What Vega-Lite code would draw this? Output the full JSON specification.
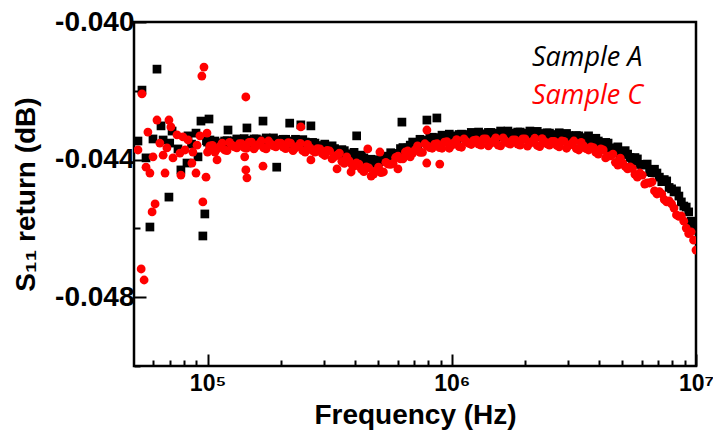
{
  "$schema": "https://vega.github.io/schema/vega-lite/v6.json",
  "width": 562,
  "height": 344,
  "autosize": {"type": "none"},
  "padding": {"left": 134, "top": 22, "right": 17, "bottom": 68},
  "background": "white",
  "config": {
    "view": {"stroke": "black", "strokeWidth": 2.5},
    "axis": {"grid": false, "domain": false}
  },
  "datasets": {
    "a": [
      {"freq": 6.21e4, "s11": -0.04137}, {"freq": 5.39e4, "s11": -0.04198}, {"freq": 5.19e4, "s11": -0.04346}, {"freq": 5.98e4, "s11": -0.04340},
      {"freq": 5.60e4, "s11": -0.04395}, {"freq": 6.45e4, "s11": -0.04302}, {"freq": 6.58e4, "s11": -0.04343}, {"freq": 7.16e4, "s11": -0.04317},
      {"freq": 7.57e4, "s11": -0.04369}, {"freq": 7.78e4, "s11": -0.04430}, {"freq": 8.24e4, "s11": -0.04410}, {"freq": 8.32e4, "s11": -0.04331},
      {"freq": 8.97e4, "s11": -0.04323}, {"freq": 9.14e4, "s11": -0.04392}, {"freq": 9.40e4, "s11": -0.04288}, {"freq": 1.014e5, "s11": -0.04282},
      {"freq": 1.023e5, "s11": -0.04343}, {"freq": 6.95e4, "s11": -0.04509}, {"freq": 5.81e4, "s11": -0.04596}, {"freq": 9.75e4, "s11": -0.04558},
      {"freq": 9.57e4, "s11": -0.04622}, {"freq": 1.213e5, "s11": -0.04314}, {"freq": 1.45e5, "s11": -0.04308}, {"freq": 1.687e5, "s11": -0.04288},
      {"freq": 2.17e5, "s11": -0.04294}, {"freq": 2.41e5, "s11": -0.04299}, {"freq": 2.65e5, "s11": -0.04302}, {"freq": 4.08e5, "s11": -0.04331},
      {"freq": 6.25e5, "s11": -0.04291}, {"freq": 1.92e5, "s11": -0.04422}, {"freq": 7.91e5, "s11": -0.04285}, {"freq": 8.69e5, "s11": -0.04279},
      {"freq": 8.6e4, "s11": -0.04355}, {"freq": 7.0e4, "s11": -0.04352}, {"freq": 9.9e4, "s11": -0.04345},
      {"freq": 1.000e5, "s11": -0.04349}, {"freq": 1.047e5, "s11": -0.04362}, {"freq": 1.096e5, "s11": -0.04351}, {"freq": 1.148e5, "s11": -0.04361},
      {"freq": 1.202e5, "s11": -0.04345}, {"freq": 1.259e5, "s11": -0.04352}, {"freq": 1.318e5, "s11": -0.04340}, {"freq": 1.380e5, "s11": -0.04354},
      {"freq": 1.445e5, "s11": -0.04344}, {"freq": 1.514e5, "s11": -0.04355}, {"freq": 1.585e5, "s11": -0.04340}, {"freq": 1.660e5, "s11": -0.04349},
      {"freq": 1.738e5, "s11": -0.04337}, {"freq": 1.820e5, "s11": -0.04352}, {"freq": 1.905e5, "s11": -0.04343}, {"freq": 1.995e5, "s11": -0.04355},
      {"freq": 2.089e5, "s11": -0.04341}, {"freq": 2.188e5, "s11": -0.04351}, {"freq": 2.291e5, "s11": -0.04341}, {"freq": 2.399e5, "s11": -0.04356},
      {"freq": 2.512e5, "s11": -0.04349}, {"freq": 2.630e5, "s11": -0.04363}, {"freq": 2.754e5, "s11": -0.04352}, {"freq": 2.884e5, "s11": -0.04363},
      {"freq": 3.020e5, "s11": -0.04355}, {"freq": 3.162e5, "s11": -0.04372}, {"freq": 3.311e5, "s11": -0.04368}, {"freq": 3.467e5, "s11": -0.04384},
      {"freq": 3.631e5, "s11": -0.04374}, {"freq": 3.802e5, "s11": -0.04387}, {"freq": 3.981e5, "s11": -0.04379}, {"freq": 4.169e5, "s11": -0.04398},
      {"freq": 4.365e5, "s11": -0.04395}, {"freq": 4.571e5, "s11": -0.04413}, {"freq": 4.786e5, "s11": -0.04401}, {"freq": 5.012e5, "s11": -0.04407},
      {"freq": 5.248e5, "s11": -0.04390}, {"freq": 5.495e5, "s11": -0.04398}, {"freq": 5.754e5, "s11": -0.04382}, {"freq": 6.026e5, "s11": -0.04387},
      {"freq": 6.310e5, "s11": -0.04365}, {"freq": 6.607e5, "s11": -0.04366}, {"freq": 6.918e5, "s11": -0.04349}, {"freq": 7.244e5, "s11": -0.04358},
      {"freq": 7.586e5, "s11": -0.04344}, {"freq": 7.943e5, "s11": -0.04352}, {"freq": 8.318e5, "s11": -0.04335}, {"freq": 8.710e5, "s11": -0.04342},
      {"freq": 9.120e5, "s11": -0.04329}, {"freq": 9.550e5, "s11": -0.04342}, {"freq": 1.000e6, "s11": -0.04331}, {"freq": 1.047e6, "s11": -0.04342},
      {"freq": 1.096e6, "s11": -0.04326}, {"freq": 1.148e6, "s11": -0.04334}, {"freq": 1.202e6, "s11": -0.04321}, {"freq": 1.259e6, "s11": -0.04334},
      {"freq": 1.318e6, "s11": -0.04325}, {"freq": 1.380e6, "s11": -0.04336}, {"freq": 1.445e6, "s11": -0.04321}, {"freq": 1.514e6, "s11": -0.04329},
      {"freq": 1.585e6, "s11": -0.04317}, {"freq": 1.660e6, "s11": -0.04331}, {"freq": 1.738e6, "s11": -0.04323}, {"freq": 1.820e6, "s11": -0.04334},
      {"freq": 1.905e6, "s11": -0.04320}, {"freq": 1.995e6, "s11": -0.04329}, {"freq": 2.089e6, "s11": -0.04317}, {"freq": 2.188e6, "s11": -0.04333},
      {"freq": 2.291e6, "s11": -0.04324}, {"freq": 2.399e6, "s11": -0.04337}, {"freq": 2.512e6, "s11": -0.04323}, {"freq": 2.630e6, "s11": -0.04333},
      {"freq": 2.754e6, "s11": -0.04322}, {"freq": 2.884e6, "s11": -0.04338}, {"freq": 3.020e6, "s11": -0.04330}, {"freq": 3.162e6, "s11": -0.04343},
      {"freq": 3.311e6, "s11": -0.04331}, {"freq": 3.467e6, "s11": -0.04341}, {"freq": 3.631e6, "s11": -0.04331}, {"freq": 3.802e6, "s11": -0.04350},
      {"freq": 3.981e6, "s11": -0.04346}, {"freq": 4.169e6, "s11": -0.04362}, {"freq": 4.365e6, "s11": -0.04352}, {"freq": 4.571e6, "s11": -0.04368},
      {"freq": 4.786e6, "s11": -0.04363}, {"freq": 5.012e6, "s11": -0.04385}, {"freq": 5.248e6, "s11": -0.04384}, {"freq": 5.495e6, "s11": -0.04404},
      {"freq": 5.754e6, "s11": -0.04398}, {"freq": 6.026e6, "s11": -0.04416}, {"freq": 6.310e6, "s11": -0.04413}, {"freq": 6.607e6, "s11": -0.04438},
      {"freq": 6.918e6, "s11": -0.04439}, {"freq": 7.079e6, "s11": -0.04451}, {"freq": 7.244e6, "s11": -0.04464}, {"freq": 7.413e6, "s11": -0.04458},
      {"freq": 7.586e6, "s11": -0.04462}, {"freq": 7.762e6, "s11": -0.04481}, {"freq": 7.943e6, "s11": -0.04485}, {"freq": 8.128e6, "s11": -0.04494},
      {"freq": 8.318e6, "s11": -0.04491}, {"freq": 8.511e6, "s11": -0.04506}, {"freq": 8.710e6, "s11": -0.04523}, {"freq": 8.913e6, "s11": -0.04535},
      {"freq": 9.120e6, "s11": -0.04538}, {"freq": 9.333e6, "s11": -0.04552}, {"freq": 9.550e6, "s11": -0.04579}, {"freq": 9.772e6, "s11": -0.04593},
      {"freq": 1.000e7, "s11": -0.04605},
      {"freq": 1.023e5, "s11": -0.04365}, {"freq": 1.072e5, "s11": -0.04346}, {"freq": 1.122e5, "s11": -0.04356}, {"freq": 1.175e5, "s11": -0.04346},
      {"freq": 1.230e5, "s11": -0.04356}, {"freq": 1.288e5, "s11": -0.04346}, {"freq": 1.349e5, "s11": -0.04357}, {"freq": 1.413e5, "s11": -0.04339},
      {"freq": 1.479e5, "s11": -0.04350}, {"freq": 1.549e5, "s11": -0.04340}, {"freq": 1.622e5, "s11": -0.04352}, {"freq": 1.698e5, "s11": -0.04343},
      {"freq": 1.778e5, "s11": -0.04355}, {"freq": 1.862e5, "s11": -0.04337}, {"freq": 1.950e5, "s11": -0.04349}, {"freq": 2.042e5, "s11": -0.04341},
      {"freq": 2.138e5, "s11": -0.04353}, {"freq": 2.239e5, "s11": -0.04346}, {"freq": 2.344e5, "s11": -0.04359}, {"freq": 2.455e5, "s11": -0.04342},
      {"freq": 2.570e5, "s11": -0.04356}, {"freq": 2.692e5, "s11": -0.04350}, {"freq": 2.818e5, "s11": -0.04365}, {"freq": 2.951e5, "s11": -0.04359},
      {"freq": 3.090e5, "s11": -0.04374}, {"freq": 3.236e5, "s11": -0.04360}, {"freq": 3.388e5, "s11": -0.04376}, {"freq": 3.548e5, "s11": -0.04371},
      {"freq": 3.715e5, "s11": -0.04387}, {"freq": 3.890e5, "s11": -0.04383}, {"freq": 4.074e5, "s11": -0.04399}, {"freq": 4.266e5, "s11": -0.04387},
      {"freq": 4.467e5, "s11": -0.04404}, {"freq": 4.677e5, "s11": -0.04399}, {"freq": 4.898e5, "s11": -0.04411}, {"freq": 5.129e5, "s11": -0.04398},
      {"freq": 5.370e5, "s11": -0.04404}, {"freq": 5.623e5, "s11": -0.04380}, {"freq": 5.888e5, "s11": -0.04385}, {"freq": 6.166e5, "s11": -0.04368},
      {"freq": 6.457e5, "s11": -0.04373}, {"freq": 6.761e5, "s11": -0.04358}, {"freq": 7.079e5, "s11": -0.04363}, {"freq": 7.413e5, "s11": -0.04341},
      {"freq": 7.762e5, "s11": -0.04348}, {"freq": 8.128e5, "s11": -0.04336}, {"freq": 8.511e5, "s11": -0.04346}, {"freq": 8.913e5, "s11": -0.04336},
      {"freq": 9.333e5, "s11": -0.04346}, {"freq": 9.772e5, "s11": -0.04326}, {"freq": 1.023e6, "s11": -0.04337}, {"freq": 1.072e6, "s11": -0.04327},
      {"freq": 1.122e6, "s11": -0.04337}, {"freq": 1.175e6, "s11": -0.04327}, {"freq": 1.230e6, "s11": -0.04338}, {"freq": 1.288e6, "s11": -0.04320},
      {"freq": 1.349e6, "s11": -0.04331}, {"freq": 1.413e6, "s11": -0.04321}, {"freq": 1.479e6, "s11": -0.04332}, {"freq": 1.549e6, "s11": -0.04323},
      {"freq": 1.622e6, "s11": -0.04334}, {"freq": 1.698e6, "s11": -0.04317}, {"freq": 1.778e6, "s11": -0.04328}, {"freq": 1.862e6, "s11": -0.04320},
      {"freq": 1.950e6, "s11": -0.04331}, {"freq": 2.042e6, "s11": -0.04323}, {"freq": 2.138e6, "s11": -0.04335}, {"freq": 2.239e6, "s11": -0.04318},
      {"freq": 2.344e6, "s11": -0.04331}, {"freq": 2.455e6, "s11": -0.04322}, {"freq": 2.570e6, "s11": -0.04335}, {"freq": 2.692e6, "s11": -0.04327},
      {"freq": 2.818e6, "s11": -0.04340}, {"freq": 2.951e6, "s11": -0.04324}, {"freq": 3.090e6, "s11": -0.04337}, {"freq": 3.236e6, "s11": -0.04330},
      {"freq": 3.388e6, "s11": -0.04343}, {"freq": 3.548e6, "s11": -0.04336}, {"freq": 3.715e6, "s11": -0.04351}, {"freq": 3.890e6, "s11": -0.04338},
      {"freq": 4.074e6, "s11": -0.04354}, {"freq": 4.266e6, "s11": -0.04350}, {"freq": 4.467e6, "s11": -0.04367}, {"freq": 4.677e6, "s11": -0.04366},
      {"freq": 4.898e6, "s11": -0.04385}, {"freq": 5.129e6, "s11": -0.04374}, {"freq": 5.370e6, "s11": -0.04394}, {"freq": 5.623e6, "s11": -0.04394},
      {"freq": 5.888e6, "s11": -0.04414}, {"freq": 6.166e6, "s11": -0.04414}, {"freq": 6.457e6, "s11": -0.04435}, {"freq": 6.761e6, "s11": -0.04428}
    ],
    "c": [
      {"freq": 1.000e5, "s11": -0.04378}, {"freq": 1.047e5, "s11": -0.04359}, {"freq": 1.096e5, "s11": -0.04369}, {"freq": 1.148e5, "s11": -0.04352},
      {"freq": 1.202e5, "s11": -0.04374}, {"freq": 1.259e5, "s11": -0.04358}, {"freq": 1.318e5, "s11": -0.04366}, {"freq": 1.380e5, "s11": -0.04354},
      {"freq": 1.445e5, "s11": -0.04367}, {"freq": 1.514e5, "s11": -0.04349}, {"freq": 1.585e5, "s11": -0.04360}, {"freq": 1.660e5, "s11": -0.04346},
      {"freq": 1.738e5, "s11": -0.04369}, {"freq": 1.820e5, "s11": -0.04355}, {"freq": 1.905e5, "s11": -0.04363}, {"freq": 1.995e5, "s11": -0.04352},
      {"freq": 2.089e5, "s11": -0.04368}, {"freq": 2.188e5, "s11": -0.04352}, {"freq": 2.291e5, "s11": -0.04366}, {"freq": 2.399e5, "s11": -0.04353},
      {"freq": 2.512e5, "s11": -0.04378}, {"freq": 2.630e5, "s11": -0.04366}, {"freq": 2.754e5, "s11": -0.04378}, {"freq": 2.884e5, "s11": -0.04369},
      {"freq": 3.020e5, "s11": -0.04388}, {"freq": 3.162e5, "s11": -0.04375}, {"freq": 3.311e5, "s11": -0.04391}, {"freq": 3.467e5, "s11": -0.04381},
      {"freq": 3.631e5, "s11": -0.04411}, {"freq": 3.802e5, "s11": -0.04404}, {"freq": 3.981e5, "s11": -0.04419}, {"freq": 4.169e5, "s11": -0.04413},
      {"freq": 4.365e5, "s11": -0.04435}, {"freq": 4.571e5, "s11": -0.04424}, {"freq": 4.786e5, "s11": -0.04442}, {"freq": 5.012e5, "s11": -0.04422},
      {"freq": 5.248e5, "s11": -0.04436}, {"freq": 5.495e5, "s11": -0.04413}, {"freq": 5.754e5, "s11": -0.04411}, {"freq": 6.026e5, "s11": -0.04390},
      {"freq": 6.310e5, "s11": -0.04398}, {"freq": 6.607e5, "s11": -0.04375}, {"freq": 6.918e5, "s11": -0.04381}, {"freq": 7.244e5, "s11": -0.04360},
      {"freq": 7.586e5, "s11": -0.04379}, {"freq": 7.943e5, "s11": -0.04360}, {"freq": 8.318e5, "s11": -0.04367}, {"freq": 8.710e5, "s11": -0.04354},
      {"freq": 9.120e5, "s11": -0.04367}, {"freq": 9.550e5, "s11": -0.04348}, {"freq": 1.000e6, "s11": -0.04358}, {"freq": 1.047e6, "s11": -0.04342},
      {"freq": 1.096e6, "s11": -0.04364}, {"freq": 1.148e6, "s11": -0.04348}, {"freq": 1.202e6, "s11": -0.04356}, {"freq": 1.259e6, "s11": -0.04343},
      {"freq": 1.318e6, "s11": -0.04358}, {"freq": 1.380e6, "s11": -0.04340}, {"freq": 1.445e6, "s11": -0.04352}, {"freq": 1.514e6, "s11": -0.04337},
      {"freq": 1.585e6, "s11": -0.04360}, {"freq": 1.660e6, "s11": -0.04346}, {"freq": 1.738e6, "s11": -0.04355}, {"freq": 1.820e6, "s11": -0.04343},
      {"freq": 1.905e6, "s11": -0.04358}, {"freq": 1.995e6, "s11": -0.04340}, {"freq": 2.089e6, "s11": -0.04352}, {"freq": 2.188e6, "s11": -0.04338},
      {"freq": 2.291e6, "s11": -0.04362}, {"freq": 2.399e6, "s11": -0.04348}, {"freq": 2.512e6, "s11": -0.04358}, {"freq": 2.630e6, "s11": -0.04347},
      {"freq": 2.754e6, "s11": -0.04363}, {"freq": 2.884e6, "s11": -0.04347}, {"freq": 3.020e6, "s11": -0.04359}, {"freq": 3.162e6, "s11": -0.04346},
      {"freq": 3.311e6, "s11": -0.04372}, {"freq": 3.467e6, "s11": -0.04360}, {"freq": 3.631e6, "s11": -0.04372}, {"freq": 3.802e6, "s11": -0.04365},
      {"freq": 3.981e6, "s11": -0.04384}, {"freq": 4.169e6, "s11": -0.04372}, {"freq": 4.365e6, "s11": -0.04390}, {"freq": 4.571e6, "s11": -0.04384},
      {"freq": 4.786e6, "s11": -0.04416}, {"freq": 5.012e6, "s11": -0.04410}, {"freq": 5.248e6, "s11": -0.04427}, {"freq": 5.495e6, "s11": -0.04426},
      {"freq": 5.754e6, "s11": -0.04451}, {"freq": 6.026e6, "s11": -0.04445}, {"freq": 6.310e6, "s11": -0.04468}, {"freq": 6.607e6, "s11": -0.04465},
      {"freq": 6.918e6, "s11": -0.04500}, {"freq": 7.079e6, "s11": -0.04493}, {"freq": 7.244e6, "s11": -0.04500}, {"freq": 7.413e6, "s11": -0.04516},
      {"freq": 7.586e6, "s11": -0.04523}, {"freq": 7.762e6, "s11": -0.04520}, {"freq": 7.943e6, "s11": -0.04529}, {"freq": 8.128e6, "s11": -0.04541},
      {"freq": 8.318e6, "s11": -0.04561}, {"freq": 8.511e6, "s11": -0.04565}, {"freq": 8.710e6, "s11": -0.04564}, {"freq": 8.913e6, "s11": -0.04579},
      {"freq": 9.120e6, "s11": -0.04599}, {"freq": 9.333e6, "s11": -0.04615}, {"freq": 9.550e6, "s11": -0.04610}, {"freq": 9.772e6, "s11": -0.04634},
      {"freq": 1.000e7, "s11": -0.04663},
      {"freq": 1.023e5, "s11": -0.04360}, {"freq": 1.072e5, "s11": -0.04378}, {"freq": 1.122e5, "s11": -0.04362}, {"freq": 1.175e5, "s11": -0.04372},
      {"freq": 1.230e5, "s11": -0.04350}, {"freq": 1.288e5, "s11": -0.04363}, {"freq": 1.349e5, "s11": -0.04354}, {"freq": 1.413e5, "s11": -0.04365},
      {"freq": 1.479e5, "s11": -0.04350}, {"freq": 1.549e5, "s11": -0.04369}, {"freq": 1.622e5, "s11": -0.04355}, {"freq": 1.698e5, "s11": -0.04366},
      {"freq": 1.778e5, "s11": -0.04346}, {"freq": 1.862e5, "s11": -0.04360}, {"freq": 1.950e5, "s11": -0.04352}, {"freq": 2.042e5, "s11": -0.04364},
      {"freq": 2.138e5, "s11": -0.04351}, {"freq": 2.239e5, "s11": -0.04374}, {"freq": 2.344e5, "s11": -0.04361}, {"freq": 2.455e5, "s11": -0.04374},
      {"freq": 2.570e5, "s11": -0.04356}, {"freq": 2.692e5, "s11": -0.04374}, {"freq": 2.818e5, "s11": -0.04368}, {"freq": 2.951e5, "s11": -0.04383},
      {"freq": 3.090e5, "s11": -0.04373}, {"freq": 3.236e5, "s11": -0.04398}, {"freq": 3.388e5, "s11": -0.04387}, {"freq": 3.548e5, "s11": -0.04405},
      {"freq": 3.715e5, "s11": -0.04392}, {"freq": 3.890e5, "s11": -0.04413}, {"freq": 4.074e5, "s11": -0.04410}, {"freq": 4.266e5, "s11": -0.04428},
      {"freq": 4.467e5, "s11": -0.04421}, {"freq": 4.677e5, "s11": -0.04448}, {"freq": 4.898e5, "s11": -0.04433}, {"freq": 5.129e5, "s11": -0.04438},
      {"freq": 5.370e5, "s11": -0.04408}, {"freq": 5.623e5, "s11": -0.04414}, {"freq": 5.888e5, "s11": -0.04394}, {"freq": 6.166e5, "s11": -0.04398},
      {"freq": 6.457e5, "s11": -0.04378}, {"freq": 6.761e5, "s11": -0.04392}, {"freq": 7.079e5, "s11": -0.04372}, {"freq": 7.413e5, "s11": -0.04379},
      {"freq": 7.762e5, "s11": -0.04354}, {"freq": 8.128e5, "s11": -0.04365}, {"freq": 8.511e5, "s11": -0.04355}, {"freq": 8.913e5, "s11": -0.04365},
      {"freq": 9.333e5, "s11": -0.04349}, {"freq": 9.772e5, "s11": -0.04367}, {"freq": 1.023e6, "s11": -0.04351}, {"freq": 1.072e6, "s11": -0.04362},
      {"freq": 1.122e6, "s11": -0.04340}, {"freq": 1.175e6, "s11": -0.04353}, {"freq": 1.230e6, "s11": -0.04344}, {"freq": 1.288e6, "s11": -0.04355},
      {"freq": 1.349e6, "s11": -0.04340}, {"freq": 1.413e6, "s11": -0.04360}, {"freq": 1.479e6, "s11": -0.04346}, {"freq": 1.549e6, "s11": -0.04358},
      {"freq": 1.622e6, "s11": -0.04337}, {"freq": 1.698e6, "s11": -0.04352}, {"freq": 1.778e6, "s11": -0.04343}, {"freq": 1.862e6, "s11": -0.04355},
      {"freq": 1.950e6, "s11": -0.04340}, {"freq": 2.042e6, "s11": -0.04361}, {"freq": 2.138e6, "s11": -0.04347}, {"freq": 2.239e6, "s11": -0.04359},
      {"freq": 2.344e6, "s11": -0.04339}, {"freq": 2.455e6, "s11": -0.04354}, {"freq": 2.570e6, "s11": -0.04347}, {"freq": 2.692e6, "s11": -0.04359},
      {"freq": 2.818e6, "s11": -0.04346}, {"freq": 2.951e6, "s11": -0.04367}, {"freq": 3.090e6, "s11": -0.04354}, {"freq": 3.236e6, "s11": -0.04368},
      {"freq": 3.388e6, "s11": -0.04350}, {"freq": 3.548e6, "s11": -0.04368}, {"freq": 3.715e6, "s11": -0.04363}, {"freq": 3.890e6, "s11": -0.04379},
      {"freq": 4.074e6, "s11": -0.04369}, {"freq": 4.266e6, "s11": -0.04395}, {"freq": 4.467e6, "s11": -0.04389}, {"freq": 4.677e6, "s11": -0.04408},
      {"freq": 4.898e6, "s11": -0.04396}, {"freq": 5.129e6, "s11": -0.04420}, {"freq": 5.370e6, "s11": -0.04421}, {"freq": 5.623e6, "s11": -0.04443},
      {"freq": 5.888e6, "s11": -0.04439}, {"freq": 6.166e6, "s11": -0.04471}, {"freq": 6.457e6, "s11": -0.04468}, {"freq": 6.761e6, "s11": -0.04491},
      {"freq": 9.67e4, "s11": -0.04131}, {"freq": 9.48e4, "s11": -0.04157}, {"freq": 5.39e4, "s11": -0.04209}, {"freq": 1.435e5, "s11": -0.04218},
      {"freq": 6.21e4, "s11": -0.04285}, {"freq": 6.95e4, "s11": -0.04285}, {"freq": 5.70e4, "s11": -0.04320}, {"freq": 7.08e4, "s11": -0.04305},
      {"freq": 5.19e4, "s11": -0.04372}, {"freq": 5.98e4, "s11": -0.04392}, {"freq": 6.38e4, "s11": -0.04352}, {"freq": 6.58e4, "s11": -0.04387},
      {"freq": 6.82e4, "s11": -0.04366}, {"freq": 7.22e4, "s11": -0.04395}, {"freq": 7.50e4, "s11": -0.04328}, {"freq": 7.71e4, "s11": -0.04381},
      {"freq": 7.93e4, "s11": -0.04334}, {"freq": 8.09e4, "s11": -0.04372}, {"freq": 8.32e4, "s11": -0.04343}, {"freq": 8.63e4, "s11": -0.04410},
      {"freq": 8.71e4, "s11": -0.04378}, {"freq": 9.06e4, "s11": -0.04358}, {"freq": 9.31e4, "s11": -0.04331}, {"freq": 9.95e4, "s11": -0.04323},
      {"freq": 5.60e4, "s11": -0.04422}, {"freq": 5.81e4, "s11": -0.04439}, {"freq": 6.70e4, "s11": -0.04439}, {"freq": 7.78e4, "s11": -0.04445},
      {"freq": 8.97e4, "s11": -0.04439}, {"freq": 9.86e4, "s11": -0.04451}, {"freq": 6.10e4, "s11": -0.04529}, {"freq": 5.93e4, "s11": -0.04552},
      {"freq": 9.57e4, "s11": -0.04523}, {"freq": 5.35e4, "s11": -0.04718}, {"freq": 5.50e4, "s11": -0.04750}, {"freq": 1.023e5, "s11": -0.04363},
      {"freq": 1.094e5, "s11": -0.04401}, {"freq": 1.42e5, "s11": -0.04392}, {"freq": 1.435e5, "s11": -0.04430}, {"freq": 1.45e5, "s11": -0.04453},
      {"freq": 1.687e5, "s11": -0.04419}, {"freq": 2.65e5, "s11": -0.04401}, {"freq": 3.39e5, "s11": -0.04427}, {"freq": 3.87e5, "s11": -0.04436},
      {"freq": 4.53e5, "s11": -0.04369}, {"freq": 5.08e5, "s11": -0.04378}, {"freq": 6.02e5, "s11": -0.04427}, {"freq": 2.41e5, "s11": -0.04305},
      {"freq": 7.91e5, "s11": -0.04314}, {"freq": 8.93e5, "s11": -0.04413}, {"freq": 7.90e5, "s11": -0.04410}
    ]
  },
  "layer": [
    {
      "data": {"name": "a"},
      "mark": {"type": "point", "shape": "square", "filled": true, "opacity": 1, "size": 76, "strokeWidth": 0, "clip": true},
      "encoding": {
        "x": {"field": "freq", "type": "quantitative"},
        "y": {"field": "s11", "type": "quantitative"},
        "color": {"datum": "Sample A"}
      }
    },
    {
      "data": {"name": "c"},
      "mark": {"type": "point", "shape": "circle", "filled": true, "opacity": 1, "size": 78, "strokeWidth": 0, "clip": true},
      "encoding": {
        "x": {
          "field": "freq", "type": "quantitative",
          "scale": {"type": "log", "domain": [50000, 10000000], "nice": false},
          "axis": {
            "title": "Frequency (Hz)",
            "titleFont": "Liberation Sans", "titleFontWeight": "bold", "titleFontSize": 28, "titleColor": "black", "titlePadding": 0,
            "values": [60000, 70000, 80000, 90000, 100000, 200000, 300000, 400000, 500000, 600000, 700000, 800000, 900000, 1000000, 2000000, 3000000, 4000000, 5000000, 6000000, 7000000, 8000000, 9000000, 10000000],
            "labelExpr": "datum.value == 100000 ? '10⁵' : datum.value == 1000000 ? '10⁶' : datum.value == 10000000 ? '10⁷' : ''",
            "labelFont": "Liberation Sans", "labelFontWeight": "bold", "labelFontSize": 23, "labelColor": "black",
            "labelFlush": false, "labelOverlap": false, "labelPadding": 18,
            "tickSize": {"condition": {"test": "datum.value == 100000 || datum.value == 1000000 || datum.value == 10000000", "value": -12}, "value": -6},
            "tickWidth": 2, "tickColor": "black"
          }
        },
        "y": {
          "field": "s11", "type": "quantitative",
          "scale": {"domain": [-0.05, -0.04], "nice": false, "zero": false},
          "axis": {
            "title": "S₁₁ return (dB)",
            "titleFont": "Liberation Sans", "titleFontWeight": "bold", "titleFontSize": 28, "titleColor": "black", "titlePadding": 14,
            "values": [-0.05, -0.048, -0.046, -0.044, -0.042, -0.04],
            "labelExpr": "round(abs(datum.value) * 1000) % 4 == 0 ? '-' + format(abs(datum.value), '.3f') : ''",
            "labelFont": "Liberation Sans", "labelFontWeight": "bold", "labelFontSize": 28, "labelColor": "black",
            "labelFlush": false, "labelOverlap": false, "labelPadding": 12,
            "tickSize": {"condition": {"test": "round(abs(datum.value) * 1000) % 4 == 0", "value": -12}, "value": -6},
            "tickWidth": 2, "tickColor": "black"
          }
        },
        "color": {
          "datum": "Sample C",
          "scale": {"domain": ["Sample A", "Sample C"], "range": ["#000000", "#ff0000"]},
          "legend": {
            "title": null, "orient": "none", "legendX": 371, "legendY": 22,
            "padding": 0, "symbolSize": 0, "symbolOpacity": 0, "symbolStrokeWidth": 0, "labelOffset": 0,
            "labelFont": "Open Sans", "labelFontStyle": "italic", "labelFontSize": 27, "rowPadding": 10,
            "encode": {"labels": {"update": {"fill": {"signal": "datum.value === 'Sample A' ? '#000000' : '#ff0000'"}}}}
          }
        }
      }
    }
  ]
}
